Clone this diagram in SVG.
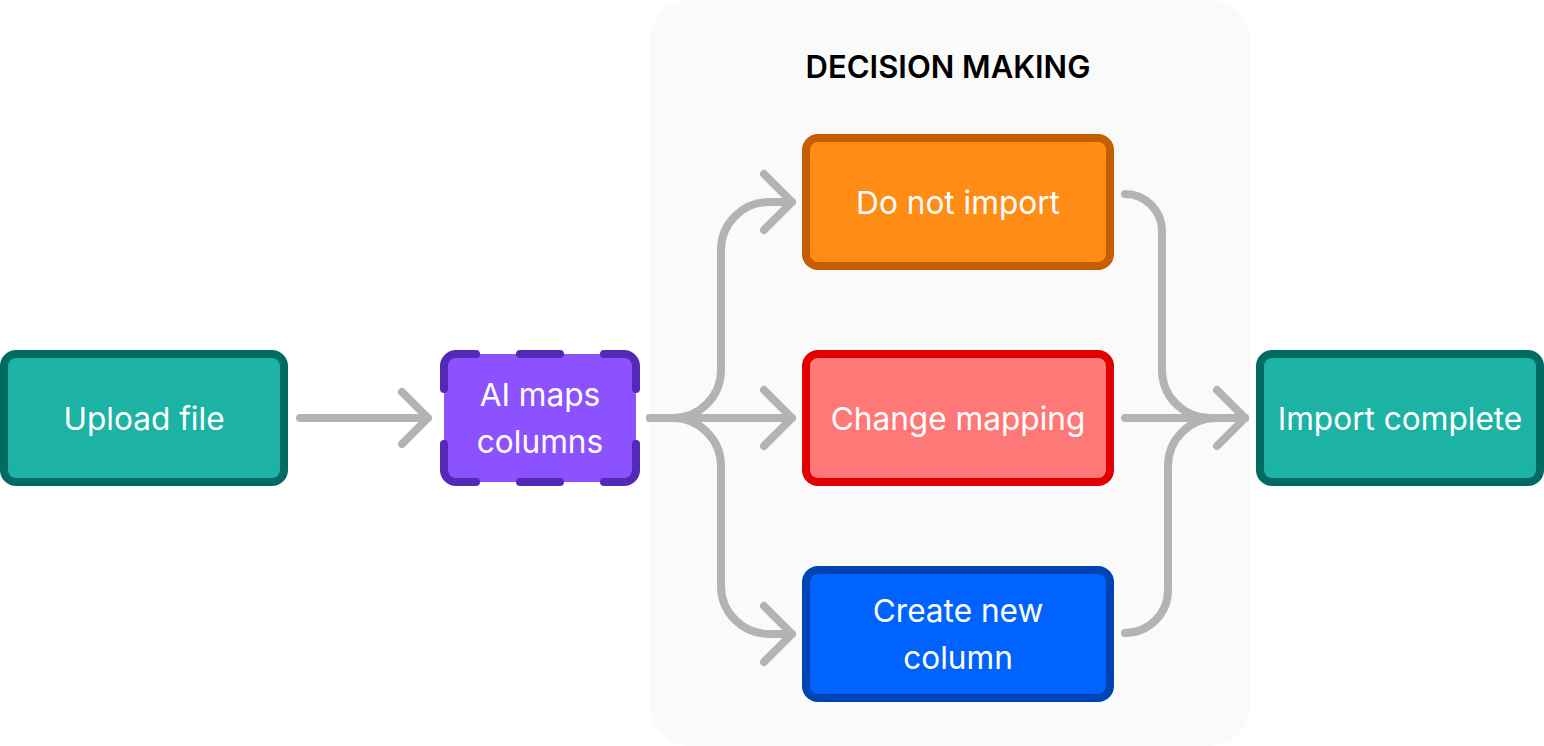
<svg xmlns="http://www.w3.org/2000/svg" width="1544" height="746" viewBox="0 0 1544 746">
<style>
.lbl{font-family:Inter,"Noto Sans","Liberation Sans",sans-serif;font-size:31.6px;fill:#FFFFFF;text-anchor:middle}
.title{font-family:Inter,"Noto Sans","Liberation Sans",sans-serif;font-size:31px;font-weight:600;fill:#000000;text-anchor:middle}
.box{stroke-width:8}
.conn{fill:none;stroke:#B3B3B3;stroke-width:8;stroke-linecap:round;stroke-linejoin:round}
.dash{fill:none;stroke:#5429B8;stroke-width:8;stroke-linecap:round}
</style>
<rect width="1544" height="746" fill="#FFFFFF"/>
<g id="decision-making">
<rect x="650" y="0" width="600" height="746" rx="40" fill="#FAFAFA"/>
<text class="title" x="948" y="78">DECISION MAKING</text>
</g>
<g id="connectors">
<path class="conn" d="M300 418 H428 M402 392 L428 418 L402 444"/>
<path class="conn" d="M650 418 H792 M764 390 L792 418 L764 446"/>
<path class="conn" d="M650 418 H673 A48 48 0 0 0 721 370 V250 A48 48 0 0 1 769 202 H792 M764 174 L792 202 L764 230"/>
<path class="conn" d="M650 418 H673 A48 48 0 0 1 721 466 V586 A48 48 0 0 0 769 634 H792 M764 606 L792 634 L764 662"/>
<path class="conn" d="M1125 194 A37 37 0 0 1 1162 231 V370 A48 48 0 0 0 1210 418 H1245"/>
<path class="conn" d="M1125 633 A43 43 0 0 0 1168 590 V466 A48 48 0 0 1 1216 418 H1245"/>
<path class="conn" d="M1125 418 H1245 M1217 390 L1245 418 L1217 446"/>
</g>
<g id="upload-file">
<rect class="box" x="4" y="354" width="280" height="128" rx="12" fill="#1CB3A4" stroke="#006B62"/>
<text class="lbl" x="144" y="430">Upload file</text>
</g>
<g id="ai-maps-columns">
<rect x="444" y="354" width="192" height="128" rx="12" fill="#8C52FF"/>
<path class="dash" d="M444 389 V366 A12 12 0 0 1 456 354 H476 M520 354 H560 M604 354 H624 A12 12 0 0 1 636 366 V389 M636 444 V470 A12 12 0 0 1 624 482 H604 M560 482 H520 M476 482 H456 A12 12 0 0 1 444 470 V444"/>
<text class="lbl" x="540" y="406">AI maps</text>
<text class="lbl" x="540" y="453">columns</text>
</g>
<g id="do-not-import">
<rect class="box" x="806" y="138" width="304" height="128" rx="12" fill="#FF8C14" stroke="#C65D00"/>
<text class="lbl" x="958" y="214">Do not import</text>
</g>
<g id="change-mapping">
<rect class="box" x="806" y="354" width="304" height="128" rx="12" fill="#FF7878" stroke="#E00000"/>
<text class="lbl" x="958" y="430">Change mapping</text>
</g>
<g id="create-new-column">
<rect class="box" x="806" y="570" width="304" height="128" rx="12" fill="#0062FF" stroke="#0043B5"/>
<text class="lbl" x="958" y="622">Create new</text>
<text class="lbl" x="958" y="669">column</text>
</g>
<g id="import-complete">
<rect class="box" x="1260" y="354" width="280" height="128" rx="12" fill="#1CB3A4" stroke="#006B62"/>
<text class="lbl" x="1400" y="430">Import complete</text>
</g>
</svg>
